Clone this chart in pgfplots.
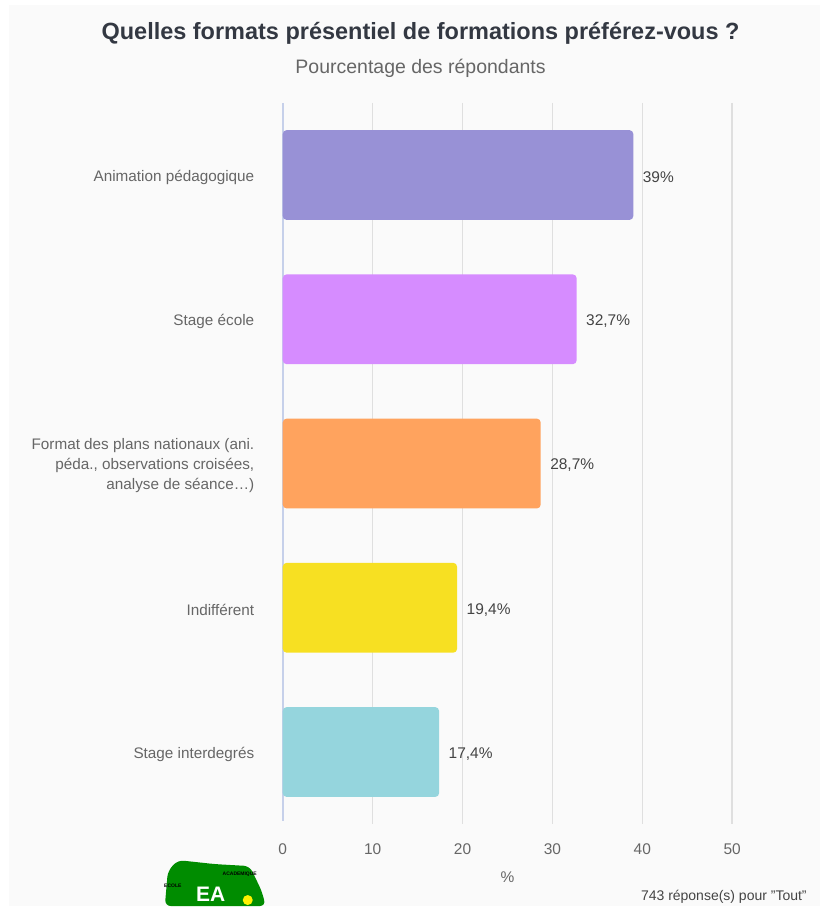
\documentclass[border=0pt]{standalone}
\usepackage{pgfplots}
\pgfplotsset{compat=1.18}
\usepackage{fontspec}
\setmainfont{Liberation Sans}
\definecolor{bg}{HTML}{FAFAFA}
\definecolor{cA}{HTML}{9891D6}
\definecolor{cB}{HTML}{D68CFF}
\definecolor{cC}{HTML}{FFA35E}
\definecolor{cD}{HTML}{F7E022}
\definecolor{cE}{HTML}{95D5DD}
\definecolor{titlec}{HTML}{333842}
\definecolor{lab}{HTML}{666666}
\definecolor{val}{HTML}{444444}
\definecolor{gridc}{HTML}{DFDFDF}
\definecolor{axc}{HTML}{C6D0EA}
\begin{document}
\begin{tikzpicture}[x=1pt,y=1pt]
\fill[white] (0pt,0pt) rectangle (821pt,907pt);
\fill[bg] (9pt,0pt) rectangle (821pt,902pt);
% title
\node[font=\fontsize{23.5}{27}\selectfont\bfseries, text=titlec] at (421pt,874pt) {Quelles formats présentiel de formations préférez-vous ?};
\node[font=\fontsize{19.5}{22}\selectfont, text=lab] at (421pt,839pt) {Pourcentage des répondants};
\begin{axis}[
  at={(283pt,82pt)}, anchor=south west,
  scale only axis, width=450pt, height=722pt,
  xbar, bar width=90pt, bar shift=0pt,
  xmin=0, xmax=50, ymin=-0.5, ymax=4.5,
  y dir=reverse,
  xtick={10,20,...,50},
  extra x ticks={0}, extra x tick style={grid=none},
  ytick={0,1,2,3,4},
  yticklabels={Animation pédagogique, Stage école, {Format des plans nationaux (ani.\\péda., observations croisées,\\analyse de séance…)}, Indifférent, Stage interdegrés},
  yticklabel style={align=right, font=\fontsize{15.3}{20}\selectfont, text=lab, xshift=-25pt, yshift=-2pt},
  xticklabel style={font=\fontsize{15.5}{18}\selectfont, text=lab, yshift=-16pt},
  /pgf/number format/assume math mode=true,
  xlabel={\%}, xlabel style={font=\fontsize{15.5}{18}\selectfont, text=lab, yshift=-10pt},
  axis line style={draw=none},
  xmajorgrids, grid style={gridc, line width=1.5pt},
  major tick length=0pt,
  clip=false,
  point meta=explicit symbolic,
  nodes near coords={\pgfplotspointmeta},
  nodes near coords style={font=\fontsize{15.5}{18}\selectfont, text=val, anchor=west, xshift=6pt, yshift=-2pt},
  every axis plot/.append style={draw=none, rounded corners=4pt},
]
\draw[axc, line width=2pt] (axis cs:0,-0.5) -- (axis cs:0,4.48);
\addplot[fill=cA] coordinates {(39,0) [39\%]};
\addplot[fill=cB] coordinates {(32.7,1) [32,7\%]};
\addplot[fill=cC] coordinates {(28.7,2) [28,7\%]};
\addplot[fill=cD] coordinates {(19.4,3) [19,4\%]};
\addplot[fill=cE] coordinates {(17.4,4) [17,4\%]};
\end{axis}
\node[anchor=east, font=\fontsize{14}{16}\selectfont, text=val] at (811pt,9pt) {743 réponse(s) pour "Tout"};
% logo approximation
\fill[green!55!black, rounded corners=6pt] (165pt,0pt) -- (168pt,35pt) -- (178pt,46pt) -- (215pt,42pt) -- (250pt,40pt) -- (262pt,15pt) -- (266pt,0pt) -- cycle;
\node[font=\fontsize{5}{6}\selectfont\bfseries] at (173pt,20pt) {ECOLE};
\node[font=\fontsize{5}{6}\selectfont\bfseries] at (240pt,32pt) {ACADEMIQUE};
\node[font=\fontsize{21}{21}\selectfont\bfseries, text=white, anchor=south, inner sep=0pt] at (211pt,4pt) {EA};
\fill[yellow] (248pt,6pt) circle (5pt);
\end{tikzpicture}
\end{document}
